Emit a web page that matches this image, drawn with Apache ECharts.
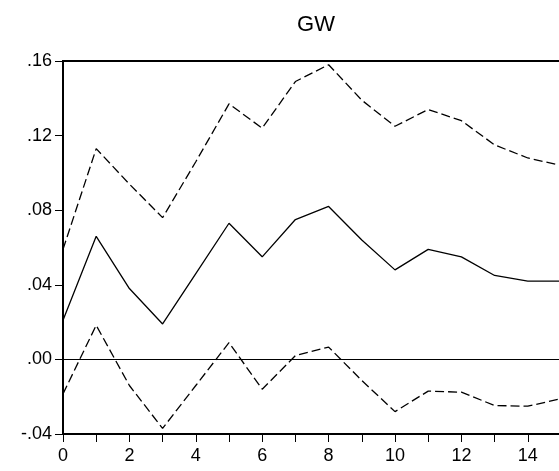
<!DOCTYPE html>
<html>
<head>
<meta charset="utf-8">
<script src="https://cdn.jsdelivr.net/npm/echarts@6/dist/echarts.min.js"></script>
<style>
html,body{margin:0;padding:0;background:#fff;}
#c{width:559px;height:471px;}
</style>
</head>
<body>
<div id="c"></div>
<script>
var periods = [0,1,2,3,4,5,6,7,8,9,10,11,12,13,14,15];
var response = [0.021,0.066,0.038,0.019,0.046,0.073,0.055,0.075,0.082,0.064,0.048,0.059,0.055,0.045,0.042,0.042];
var upperBand = [0.059,0.113,0.094,0.076,0.106,0.137,0.124,0.149,0.158,0.139,0.125,0.134,0.128,0.115,0.108,0.104];
var lowerBand = [-0.0185,0.0183,-0.014,-0.037,-0.014,0.009,-0.016,0.002,0.0066,-0.0113,-0.028,-0.017,-0.0176,-0.0247,-0.0251,-0.0211];
var yTickLabels = ['-.04','.00','.04','.08','.12','.16'];
var xTickLabels = ['0','2','4','6','8','10','12','14'];
var title = 'GW';

function pairs(vals){ return periods.map(function(p,i){ return [p, vals[i]]; }); }

var font = 'Liberation Sans, Arial, sans-serif';
var chart = echarts.init(document.getElementById('c'), null, {renderer:'canvas'});
chart.setOption({
  animation: false,
  backgroundColor: '#ffffff',
  title: {
    text: title, left: 311, top: 9, textAlign: 'center',
    textStyle: {fontFamily: font, fontSize: 22, fontWeight: 'normal', color: '#000'}
  },
  grid: {left: 63, top: 61, height: 373, width: 498, show: true, borderColor: '#000', borderWidth: 2,
         containLabel: false, outerBoundsMode: 'none'},
  xAxis: {
    type: 'value', min: 0, max: 15, interval: 1,
    axisLine: {show: true, onZero: false, lineStyle: {color: '#000', width: 2}},
    axisTick: {show: true, inside: false, length: 8, lineStyle: {color: '#000', width: 1}},
    splitLine: {show: false},
    axisLabel: {
      color: '#000', fontFamily: font, fontSize: 18, margin: 13,
      formatter: function(v){ var i = xTickLabels.indexOf(String(v)); return i >= 0 ? xTickLabels[i] : ''; }
    }
  },
  yAxis: {
    type: 'value', min: -0.04, max: 0.16, interval: 0.04,
    axisLine: {show: true, onZero: false, lineStyle: {color: '#000', width: 2}},
    axisTick: {show: true, inside: false, length: 8, lineStyle: {color: '#000', width: 1}},
    splitLine: {show: false},
    axisLabel: {
      color: '#000', fontFamily: font, fontSize: 18, margin: 11,
      formatter: function(v){ var i = Math.round((v + 0.04) / 0.04); return yTickLabels[i] || ''; }
    }
  },
  series: [
    {
      type: 'line', data: pairs(response), symbol: 'none',
      lineStyle: {color: '#000', width: 1.3},
      markLine: {
        silent: true, symbol: ['none','none'], label: {show: false},
        lineStyle: {color: '#000', width: 1, type: 'solid'},
        data: [{yAxis: 0}]
      }
    },
    {
      type: 'line', data: pairs(upperBand), symbol: 'none',
      lineStyle: {color: '#000', width: 1.3, type: [9,4]}
    },
    {
      type: 'line', data: pairs(lowerBand), symbol: 'none',
      lineStyle: {color: '#000', width: 1.3, type: [9,4]}
    }
  ]
});
</script>
</body>
</html>
